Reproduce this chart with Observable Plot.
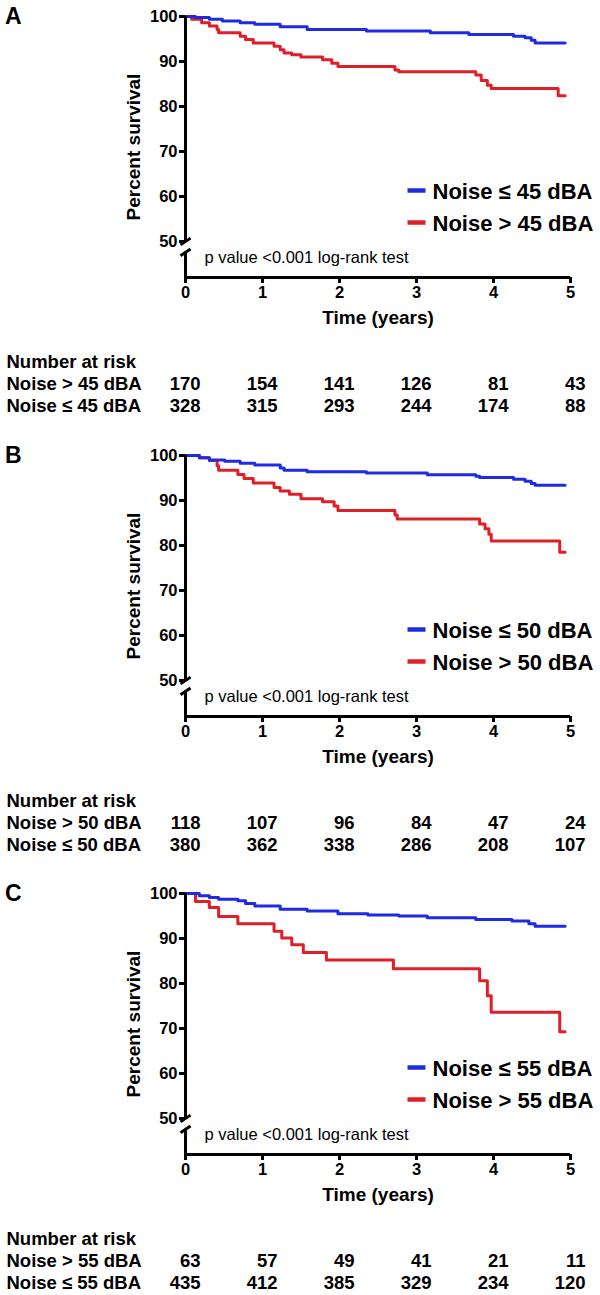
<!DOCTYPE html>
<html>
<head>
<meta charset="utf-8">
<script src="https://cdn.jsdelivr.net/npm/d3@7"></script>
<script src="https://cdn.jsdelivr.net/npm/@observablehq/plot@0.6"></script>
<style>
  html, body { margin: 0; padding: 0; background: #fff; }
  #page { position: relative; width: 600px; height: 1295px; overflow: hidden; font-family: "Liberation Sans", Arial, Helvetica, sans-serif; }
  .panel { position: relative; width: 600px; }
  .panel svg { display: block; }
  .plabel { position: absolute; left: 5px; top: 5px; font: bold 23px/1 "Liberation Sans", Arial, sans-serif; color: #000; }
</style>
</head>
<body>
<div id="page"></div>
<script>
// ---------- data ----------
const panelLetters = ["A", "B", "C"];
const thresholds = ["45", "50", "55"];
const xTicks = [0, 1, 2, 3, 4, 5];
const yTicks = [50, 60, 70, 80, 90, 100];
const riskTimes = [0, 1, 2, 3, 4, 5];
const pText = "p value <0.001 log-rank test";
const yTitle = "Percent survival";
const xTitle = "Time (years)";
const riskTitle = "Number at risk";

// Panel A
const timeA_hi = [0, 0.08, 0.21, 0.31, 0.41, 0.43, 0.71, 0.78, 0.88, 1.15, 1.23, 1.28, 1.38, 1.5, 1.78, 1.9, 1.98, 2.72, 2.77, 3.77, 3.84, 3.92, 3.97, 4.84, 4.93];
const survA_hi = [100, 99.4, 98.6, 97.9, 97.1, 96.4, 95.6, 94.9, 94.1, 93.4, 92.6, 91.9, 91.5, 91.0, 90.4, 89.6, 88.9, 88.1, 87.7, 87.0, 85.8, 84.7, 84.0, 82.4, 82.4];
const timeA_lo = [0, 0.13, 0.31, 0.48, 0.71, 0.9, 1.23, 1.58, 2.35, 3.18, 3.68, 4.26, 4.41, 4.49, 4.54, 4.93];
const survA_lo = [100, 99.8, 99.4, 99.0, 98.6, 98.3, 97.7, 97.1, 96.8, 96.4, 96.0, 95.6, 95.3, 94.7, 94.1, 94.1];
const riskA_hi = [170, 154, 141, 126, 81, 43];
const riskA_lo = [328, 315, 293, 244, 174, 88];

// Panel B
const timeB_hi = [0, 0.18, 0.31, 0.41, 0.43, 0.68, 0.76, 0.88, 1.15, 1.23, 1.35, 1.5, 1.78, 1.93, 1.98, 2.72, 2.75, 3.82, 3.89, 3.94, 3.97, 4.86, 4.93];
const survB_hi = [100, 99.5, 98.9, 97.7, 96.7, 95.8, 94.9, 93.9, 92.9, 92.1, 91.4, 90.4, 89.7, 88.8, 87.8, 86.8, 85.9, 84.8, 83.7, 82.5, 81.0, 78.5, 78.5];
const timeB_lo = [0, 0.18, 0.31, 0.51, 0.71, 0.9, 1.23, 1.28, 1.58, 2.35, 3.14, 3.77, 3.82, 4.26, 4.41, 4.49, 4.54, 4.93];
const survB_lo = [100, 99.5, 99.0, 98.7, 98.3, 97.9, 97.2, 96.7, 96.4, 96.1, 95.7, 95.4, 95.1, 94.7, 94.3, 93.8, 93.4, 93.4];
const riskB_hi = [118, 107, 96, 84, 47, 24];
const riskB_lo = [380, 362, 338, 286, 208, 107];

// Panel C
const timeC_hi = [0, 0.13, 0.31, 0.43, 0.68, 1.15, 1.25, 1.38, 1.53, 1.83, 2.7, 3.82, 3.92, 3.97, 4.86, 4.93];
const survC_hi = [100, 98.2, 96.9, 94.9, 93.3, 91.6, 90.1, 88.6, 86.9, 85.2, 83.3, 80.6, 77.3, 73.6, 69.3, 69.3];
const timeC_lo = [0, 0.18, 0.31, 0.43, 0.68, 0.78, 0.9, 1.23, 1.58, 1.98, 2.37, 2.77, 3.14, 3.77, 4.24, 4.46, 4.54, 4.93];
const survC_lo = [100, 99.5, 99.1, 98.7, 98.4, 97.8, 97.2, 96.5, 96.1, 95.5, 95.2, 95.0, 94.6, 94.2, 93.9, 93.3, 92.7, 92.7];
const riskC_hi = [63, 57, 49, 41, 21, 11];
const riskC_lo = [435, 412, 385, 329, 234, 120];

// ---------- config ----------
const BLUE = "#1f2be0";
const RED = "#df1f27";
const yMin = 42, yMax = 100;
const breakTop = 50, breakBottom = 47.6;
const FONT = "'Liberation Sans', Arial, Helvetica, sans-serif";

const panels = [
  {letter: panelLetters[0], thr: thresholds[0], hi: [timeA_hi, survA_hi], lo: [timeA_lo, survA_lo], risk: [riskA_hi, riskA_lo], h: 439},
  {letter: panelLetters[1], thr: thresholds[1], hi: [timeB_hi, survB_hi], lo: [timeB_lo, survB_lo], risk: [riskB_hi, riskB_lo], h: 438},
  {letter: panelLetters[2], thr: thresholds[2], hi: [timeC_hi, survC_hi], lo: [timeC_lo, survC_lo], risk: [riskC_hi, riskC_lo], h: 418}
];

const lineSymbol = { draw(ctx) { ctx.moveTo(-9, 0); ctx.lineTo(9, 0); } };

const zip = (t, s) => t.map((v, i) => ({t: v, s: s[i]}));

const page = document.getElementById("page");

for (const p of panels) {
  const div = document.createElement("div");
  div.className = "panel";
  div.style.height = p.h + "px";
  const lab = document.createElement("div");
  lab.className = "plabel";
  lab.textContent = p.letter;

  const labelLo = `Noise ≤ ${p.thr} dBA`;
  const labelHi = `Noise > ${p.thr} dBA`;
  const legend = [{label: labelLo, color: BLUE}, {label: labelHi, color: RED}];

  const axisSegs = [{y1: breakTop, y2: yMax}, {y1: yMin, y2: breakBottom}];
  const slashes = [breakTop, breakBottom];

  const legendMarks = legend.flatMap((d, i) => [
    Plot.dot([d], {frameAnchor: "top-right", dx: -154, dy: 174 + 32 * i, symbol: lineSymbol, fill: "none", stroke: d.color, strokeWidth: 4.5}),
    Plot.text([d], {frameAnchor: "top-right", dx: -138, dy: 175 + 32 * i, text: d => d.label, textAnchor: "start", lineAnchor: "middle", fontSize: 22, fontWeight: "bold", fill: "#000"})
  ]);

  const main = Plot.plot({
    width: 600,
    height: 340,
    marginLeft: 185,
    marginRight: 30,
    marginTop: 16,
    marginBottom: 63,
    style: {fontFamily: FONT, fontSize: "16px", fontWeight: "bold", color: "#000", background: "#fff", overflow: "visible"},
    x: {domain: [0, 5], axis: null},
    y: {domain: [yMin, yMax], axis: null},
    marks: [
      Plot.line(zip(p.hi[0], p.hi[1]), {x: "t", y: "s", curve: "step-after", stroke: RED, strokeWidth: 3}),
      Plot.line(zip(p.lo[0], p.lo[1]), {x: "t", y: "s", curve: "step-after", stroke: BLUE, strokeWidth: 3}),
      Plot.ruleX(axisSegs, {x: () => 0, y1: "y1", y2: "y2", stroke: "#000", strokeWidth: 3}),
      Plot.link(slashes, {x1: () => -0.065, x2: () => 0.065, y1: d => d - 0.75, y2: d => d + 0.75, stroke: "#000", strokeWidth: 3}),
      Plot.ruleY([yMin], {x1: () => 0, x2: () => 5, stroke: "#000", strokeWidth: 3}),
      Plot.axisY({ticks: yTicks, tickFormat: d3.format("d"), tickSize: 6, tickPadding: 2, strokeWidth: 3, label: null, fontSize: 16.5, fontWeight: "bold", fill: "#000"}),
      Plot.axisX({ticks: xTicks, tickFormat: d3.format("d"), tickSize: 6, tickPadding: 3, strokeWidth: 3, label: null, fontSize: 16.5, fontWeight: "bold", fill: "#000"}),
      Plot.text([xTitle], {frameAnchor: "bottom", dy: 40, text: d => d, textAnchor: "middle", lineAnchor: "middle", fontSize: 19, fontWeight: "bold", fill: "#000"}),
      Plot.text([yTitle], {frameAnchor: "left", dx: -52, rotate: -90, text: d => d, textAnchor: "middle", lineAnchor: "middle", fontSize: 19, fontWeight: "bold", fill: "#000"}),
      Plot.text([pText], {frameAnchor: "bottom-left", dx: 19, dy: -20, text: d => d, textAnchor: "start", lineAnchor: "middle", fontSize: 16.5, fontWeight: "normal", fill: "#000"}),
      ...legendMarks
    ]
  });

  const rows = [{key: "title", label: riskTitle}, {key: "hi", label: labelHi}, {key: "lo", label: labelLo}];
  const cells = [
    ...riskTimes.map((t, i) => ({t, key: "hi", n: p.risk[0][i]})),
    ...riskTimes.map((t, i) => ({t, key: "lo", n: p.risk[1][i]}))
  ];
  const tableH = p.h - 340;
  const table = Plot.plot({
    width: 600,
    height: tableH,
    marginLeft: 185,
    marginRight: 30,
    marginTop: 22,
    marginBottom: tableH - 66,
    style: {fontFamily: FONT, fontSize: "18px", fontWeight: "bold", color: "#000", background: "#fff", overflow: "visible"},
    x: {domain: [0, 5], axis: null},
    y: {type: "point", domain: ["title", "hi", "lo"], padding: 0, axis: null},
    marks: [
      Plot.text(rows, {y: "key", text: "label", frameAnchor: "left", dx: -179, textAnchor: "start", lineAnchor: "middle", fontSize: 18.5, fontWeight: "bold", fill: "#000"}),
      Plot.text(cells, {x: "t", y: "key", text: d => String(d.n), textAnchor: "end", lineAnchor: "middle", dx: 15, fontSize: 18.5, fontWeight: "bold", fill: "#000"})
    ]
  });

  div.appendChild(main);
  div.appendChild(table);
  div.appendChild(lab);
  page.appendChild(div);
}
</script>
</body>
</html>
